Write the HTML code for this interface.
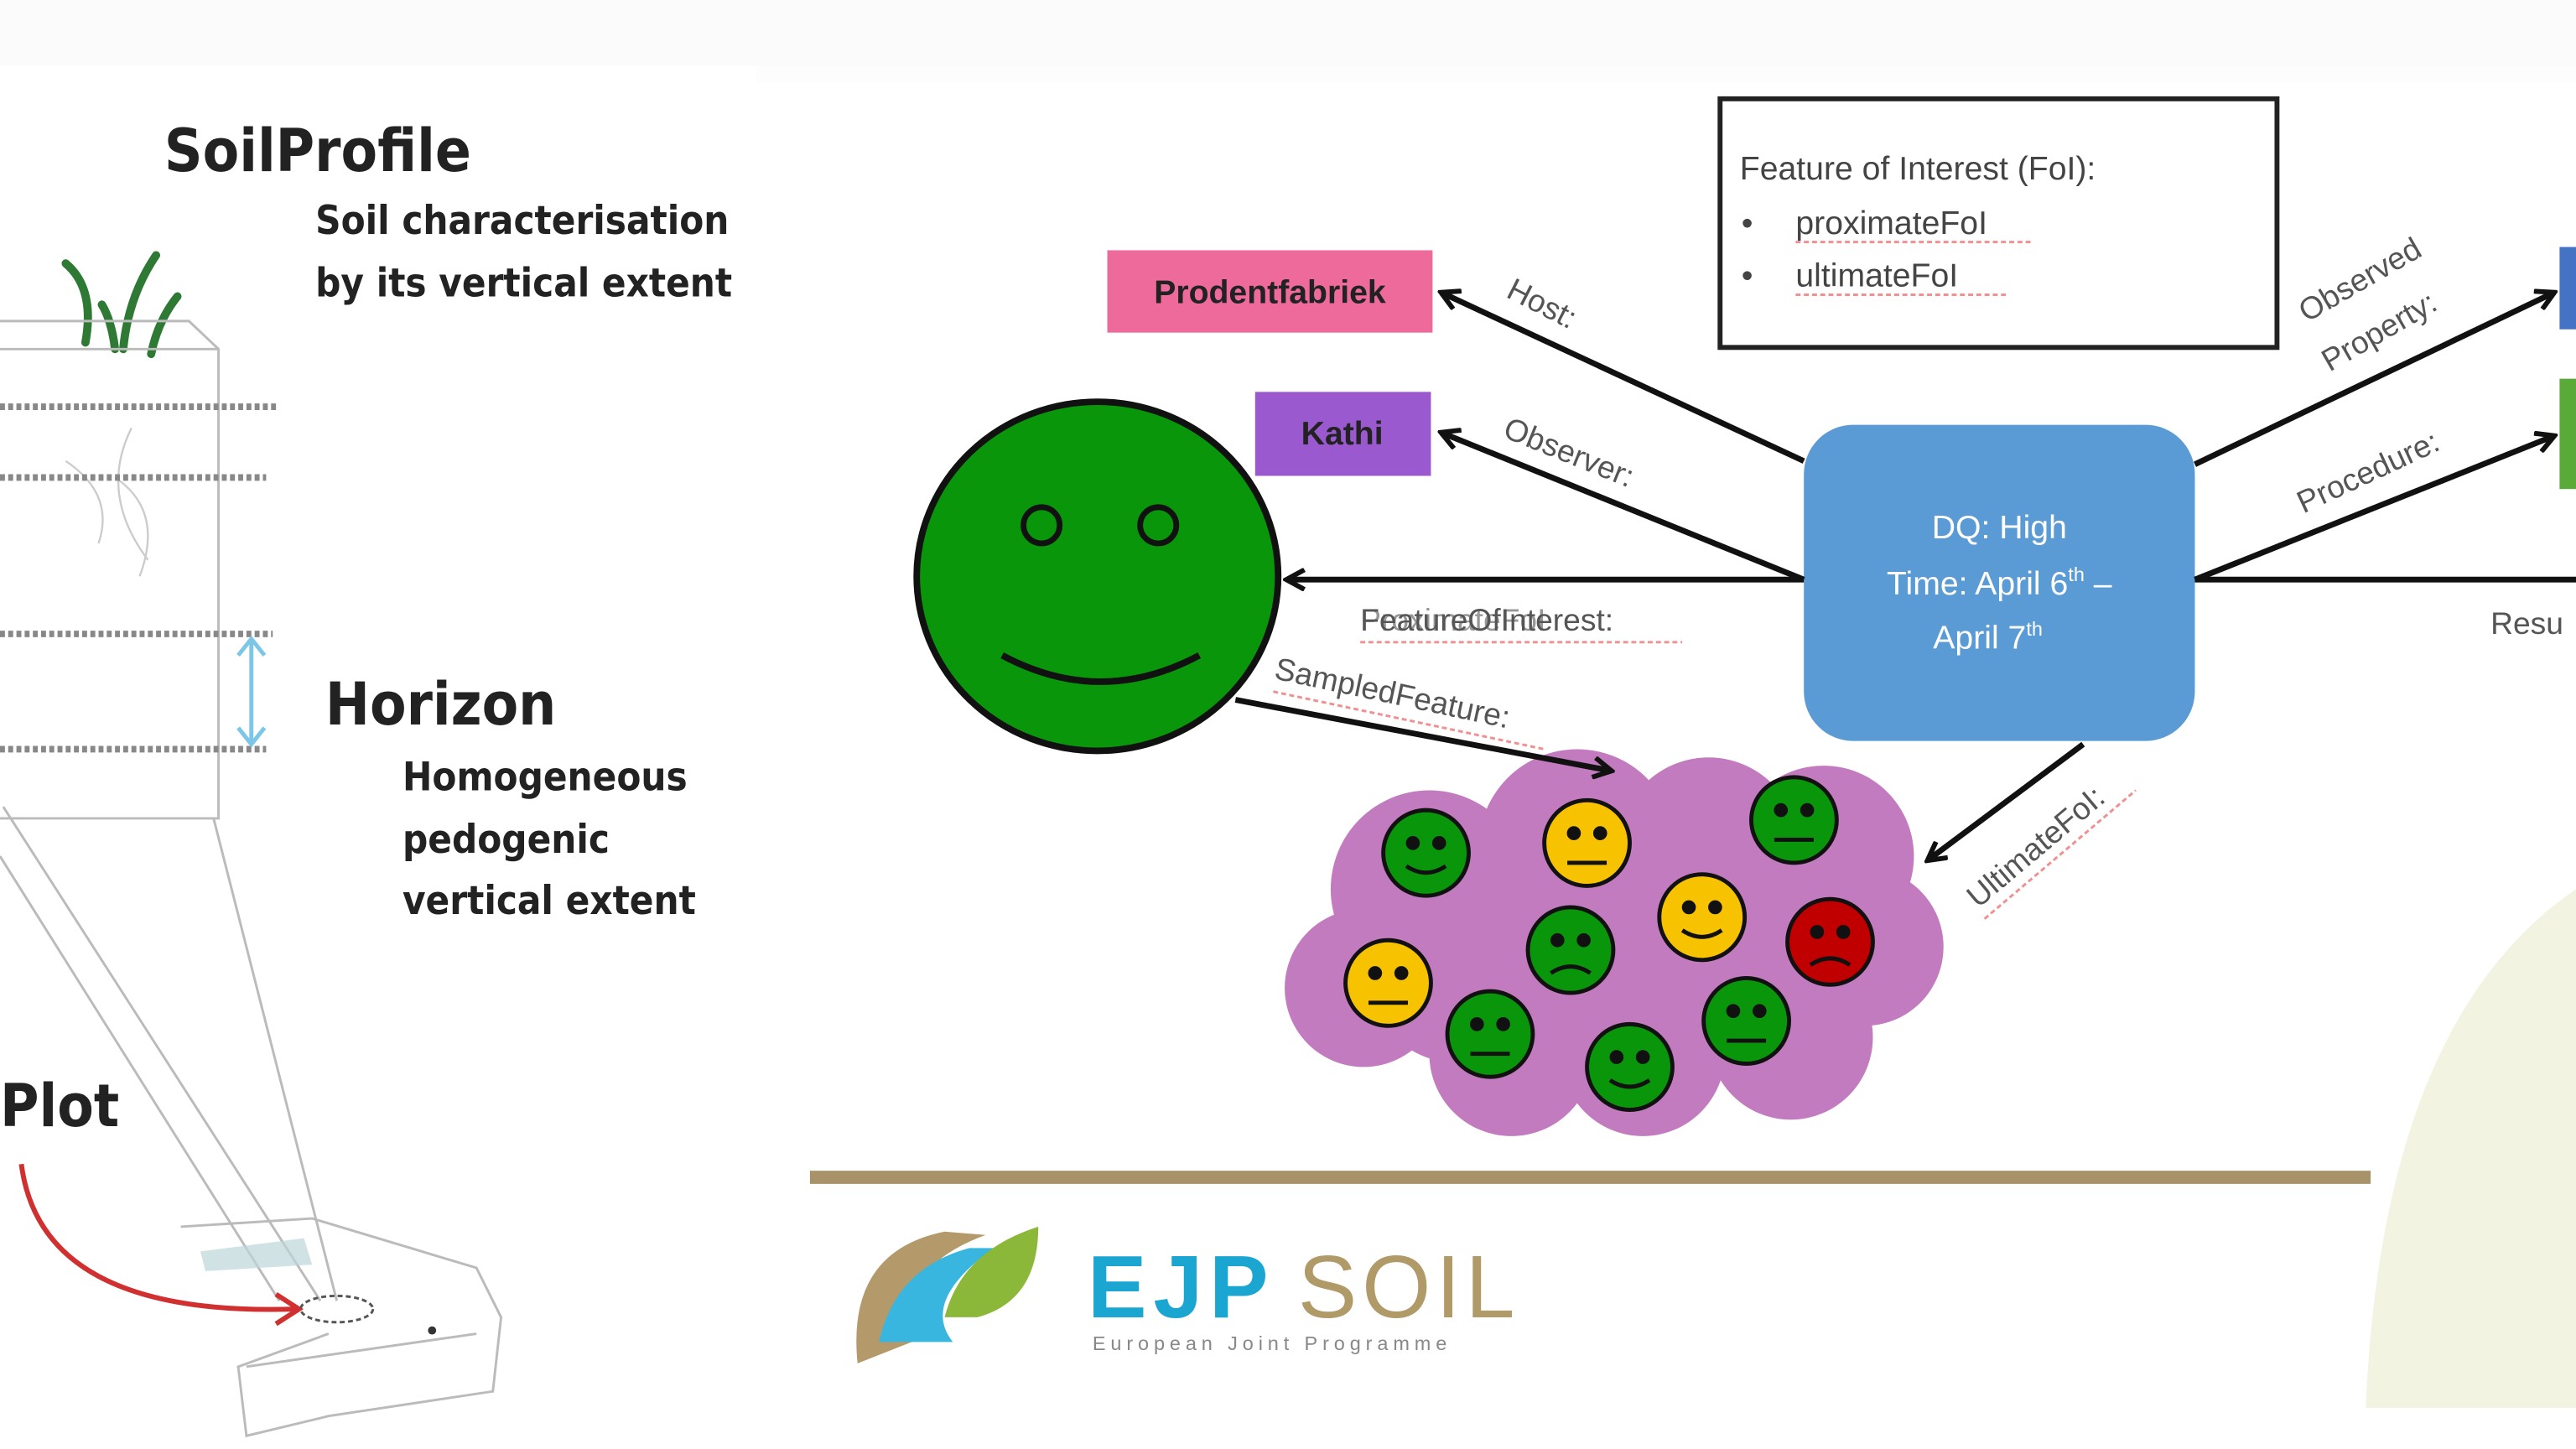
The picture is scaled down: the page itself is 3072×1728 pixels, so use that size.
<!DOCTYPE html>
<html><head><meta charset="utf-8"><style>
html,body{margin:0;padding:0;background:#fff;width:3072px;height:1728px;overflow:hidden}
svg{display:block}
.hand{font-family:"Comic Sans MS","DejaVu Sans Condensed","Liberation Sans",sans-serif;font-weight:bold;fill:#222}
.lbl{font-family:"Liberation Sans",sans-serif;fill:#555;font-size:19px}
</style></head><body>
<svg width="3072" height="1728" viewBox="0 0 1568 880" preserveAspectRatio="none" xmlns="http://www.w3.org/2000/svg">
<defs>
<marker id="ah" markerWidth="14" markerHeight="14" refX="11" refY="7" orient="auto" markerUnits="userSpaceOnUse">
<path d="M1,1 L12,7 L1,13" fill="none" stroke="#111" stroke-width="3"/>
</marker>
</defs>
<rect width="1568" height="880" fill="#fff"/>
<rect x="0" y="0" width="1568" height="40" fill="#fbfbfb"/>
<rect x="460" y="40" width="1108" height="10" fill="#fdfdfd"/>

<!-- LEFT PANEL -->
<text x="100" y="104" class="hand" font-size="36">SoilProfile</text>
<text x="192" y="142" class="hand" font-size="24" fill="#333">Soil characterisation</text>
<text x="192" y="180" class="hand" font-size="24" fill="#333">by its vertical extent</text>
<g stroke="#2e7a35" stroke-width="5" fill="none" stroke-linecap="round">
<path d="M40,160 Q58,175 52,208"/><path d="M62,185 Q68,195 70,212"/>
<path d="M95,155 Q78,180 75,212"/><path d="M108,180 Q96,195 92,215"/>
</g>
<g stroke="#bbb" stroke-width="1.5" fill="none">
<path d="M0,195 L115,195 L133,212 L133,497 L0,497"/>
<path d="M0,212 L133,212"/>
<path d="M2,490 L195,790 M130,497 L205,790 M0,520 L170,790"/>
<path d="M110,745 L190,740 L290,770 L305,800 L300,845 L200,860 L150,872 L145,830 L200,810"/>
<path d="M150,830 L290,810"/>
</g>
<path d="M40,280 Q70,300 60,330 M80,260 Q60,300 90,340 M70,290 Q100,310 85,350" stroke="#ccc" stroke-width="1.2" fill="none"/>
<g stroke="#888" stroke-width="4" stroke-dasharray="3,2">
<line x1="0" y1="247" x2="168" y2="247"/><line x1="0" y1="290" x2="162" y2="290"/>
<line x1="0" y1="385" x2="166" y2="385"/><line x1="0" y1="455" x2="162" y2="455"/>
</g>
<g stroke="#7cc6e8" stroke-width="2.5" fill="none">
<line x1="153" y1="390" x2="153" y2="450"/><path d="M145,398 L153,388 L161,398 M145,442 L153,452 L161,442"/>
</g>
<path d="M122,760 L185,752 L190,768 L125,772 Z" fill="#bcd6d8" opacity="0.7"/>
<text x="198" y="440" class="hand" font-size="36">Horizon</text>
<text x="245" y="480" class="hand" font-size="24" fill="#333">Homogeneous</text>
<text x="245" y="518" class="hand" font-size="24" fill="#333">pedogenic</text>
<text x="245" y="555" class="hand" font-size="24" fill="#333">vertical extent</text>
<text x="0" y="684" class="hand" font-size="36">Plot</text>
<path d="M13,707 Q25,800 180,795" stroke="#d03030" stroke-width="3" fill="none"/>
<path d="M168,786 L182,795 L168,804" stroke="#d03030" stroke-width="3" fill="none"/>
<ellipse cx="205" cy="795" rx="22" ry="8" stroke="#555" stroke-width="1.5" stroke-dasharray="3,2" fill="none"/>
<circle cx="263" cy="808" r="2.5" fill="#333"/>

<line x1="493" y1="715" x2="1443" y2="715" stroke="#a8926a" stroke-width="8"/>
<path d="M1440,855 Q1450,620 1568,540 L1568,855 Z" fill="#f3f3e2"/>
<path d="M522,828 Q515,760 575,748 L600,750 Q545,770 555,815 Z" fill="#b49a6a"/>
<path d="M535,815 Q545,770 590,758 L605,758 Q560,790 580,815 Z" fill="#39b6df"/>
<path d="M575,800 Q585,760 632,745 Q632,790 595,800 Z" fill="#8cb83a"/>
<text x="662" y="800" font-family="Liberation Sans,sans-serif" font-weight="bold" font-size="54" fill="#1aa6d1" letter-spacing="4">EJP</text>
<text x="790" y="800" font-family="Liberation Sans,sans-serif" font-size="54" fill="#b09a68" letter-spacing="3">SOIL</text>
<text x="665" y="820" font-family="Liberation Sans,sans-serif" font-size="12" fill="#888" letter-spacing="3">European Joint Programme</text>

<g fill="#c27bbe">
<circle cx="870" cy="540" r="60"/><circle cx="960" cy="515" r="60"/><circle cx="1040" cy="515" r="55"/><circle cx="1110" cy="520" r="55"/>
<circle cx="1135" cy="575" r="48"/><circle cx="1090" cy="630" r="50"/><circle cx="1000" cy="640" r="50"/><circle cx="920" cy="640" r="50"/>
<circle cx="830" cy="600" r="48"/><circle cx="980" cy="580" r="80"/><circle cx="885" cy="595" r="50"/><circle cx="1060" cy="585" r="60"/>
</g>
<g stroke="#111" stroke-width="2.5">
<g transform="translate(868,518)"><circle r="26" fill="#0a960a"/><circle cx="-8" cy="-6" r="3" fill="#111"/><circle cx="8" cy="-6" r="3" fill="#111"/><path d="M-12,8 Q0,16 12,8" fill="none"/></g>
<g transform="translate(966,512)"><circle r="26" fill="#f7c200"/><circle cx="-8" cy="-6" r="3" fill="#111"/><circle cx="8" cy="-6" r="3" fill="#111"/><path d="M-12,12 L12,12" fill="none"/></g>
<g transform="translate(1092,498)"><circle r="26" fill="#0a960a"/><circle cx="-8" cy="-6" r="3" fill="#111"/><circle cx="8" cy="-6" r="3" fill="#111"/><path d="M-12,12 L12,12" fill="none"/></g>
<g transform="translate(956,577)"><circle r="26" fill="#0a960a"/><circle cx="-8" cy="-6" r="3" fill="#111"/><circle cx="8" cy="-6" r="3" fill="#111"/><path d="M-12,14 Q0,6 12,14" fill="none"/></g>
<g transform="translate(1036,557)"><circle r="26" fill="#f7c200"/><circle cx="-8" cy="-6" r="3" fill="#111"/><circle cx="8" cy="-6" r="3" fill="#111"/><path d="M-12,8 Q0,16 12,8" fill="none"/></g>
<g transform="translate(1114,572)"><circle r="26" fill="#c00000"/><circle cx="-8" cy="-6" r="3" fill="#111"/><circle cx="8" cy="-6" r="3" fill="#111"/><path d="M-12,14 Q0,6 12,14" fill="none"/></g>
<g transform="translate(845,597)"><circle r="26" fill="#f7c200"/><circle cx="-8" cy="-6" r="3" fill="#111"/><circle cx="8" cy="-6" r="3" fill="#111"/><path d="M-12,12 L12,12" fill="none"/></g>
<g transform="translate(907,628)"><circle r="26" fill="#0a960a"/><circle cx="-8" cy="-6" r="3" fill="#111"/><circle cx="8" cy="-6" r="3" fill="#111"/><path d="M-12,12 L12,12" fill="none"/></g>
<g transform="translate(992,648)"><circle r="26" fill="#0a960a"/><circle cx="-8" cy="-6" r="3" fill="#111"/><circle cx="8" cy="-6" r="3" fill="#111"/><path d="M-12,8 Q0,16 12,8" fill="none"/></g>
<g transform="translate(1063,620)"><circle r="26" fill="#0a960a"/><circle cx="-8" cy="-6" r="3" fill="#111"/><circle cx="8" cy="-6" r="3" fill="#111"/><path d="M-12,12 L12,12" fill="none"/></g>
</g>

<ellipse cx="668" cy="350" rx="110" ry="106" fill="#0a960a" stroke="#111" stroke-width="4"/>
<circle cx="634" cy="319" r="11" fill="none" stroke="#111" stroke-width="3.5"/>
<circle cx="705" cy="319" r="11" fill="none" stroke="#111" stroke-width="3.5"/>
<path d="M610,398 Q670,430 730,398" fill="none" stroke="#111" stroke-width="4"/>

<rect x="674" y="152" width="198" height="50" fill="#ee6a9b"/>
<text x="773" y="184" text-anchor="middle" font-family="Liberation Sans,sans-serif" font-weight="bold" font-size="20" fill="#222">Prodentfabriek</text>
<rect x="764" y="238" width="107" height="51" fill="#9b59d0"/>
<text x="817" y="270" text-anchor="middle" font-family="Liberation Sans,sans-serif" font-weight="bold" font-size="20" fill="#222">Kathi</text>
<rect x="1558" y="150" width="12" height="50" fill="#4472c4"/>
<rect x="1558" y="230" width="12" height="67" fill="#5aaa3a"/>

<rect x="1047" y="60" width="339" height="151" fill="#fff" stroke="#222" stroke-width="3"/>
<g font-family="Liberation Sans,sans-serif" font-size="20" fill="#444">
<text x="1059" y="109">Feature of Interest (FoI):</text>
<text x="1060" y="142">•</text><text x="1093" y="142">proximateFoI</text>
<text x="1060" y="174">•</text><text x="1093" y="174">ultimateFoI</text>
</g>
<path d="M1093,147 h145 M1093,179 h128" stroke="#f09090" stroke-width="1.5" stroke-dasharray="3,2"/>

<rect x="1098" y="258" width="238" height="192" rx="30" fill="#5b9bd5"/>
<g font-family="Liberation Sans,sans-serif" font-size="20" fill="#fff" text-anchor="middle">
<text x="1217" y="327">DQ: High</text>
<text x="1217" y="361">Time: April 6<tspan font-size="12" dy="-8">th</tspan><tspan dy="8"> –</tspan></text>
<text x="1210" y="394">April 7<tspan font-size="12" dy="-8">th</tspan></text>
</g>

<g stroke="#111" stroke-width="3.5" fill="none" marker-end="url(#ah)">
<line x1="1098" y1="280" x2="878" y2="178"/>
<line x1="1098" y1="352" x2="878" y2="263"/>
<line x1="1098" y1="352" x2="784" y2="352"/>
<line x1="752" y1="425" x2="980" y2="468"/>
<line x1="1268" y1="452" x2="1174" y2="522"/>
<line x1="1336" y1="282" x2="1554" y2="178"/>
<line x1="1336" y1="352" x2="1554" y2="265"/>
</g>
<line x1="1336" y1="352" x2="1568" y2="352" stroke="#111" stroke-width="3.5"/>

<text class="lbl" transform="translate(916,180) rotate(27)">Host:</text>
<text class="lbl" transform="translate(914,265) rotate(22)">Observer:</text>
<text class="lbl" x="828" y="383" fill="#444">FeatureOfInterest:</text>
<text class="lbl" x="828" y="383" fill="#333" opacity="0.6">ProximateFoI</text>
<path d="M828,390 h196" stroke="#f09090" stroke-width="1.5" stroke-dasharray="3,2"/>
<text class="lbl" transform="translate(775,412) rotate(12)">SampledFeature:</text>
<path d="M775,420 L940,455" stroke="#f09090" stroke-width="1.5" stroke-dasharray="3,2"/>
<text class="lbl" transform="translate(1204,552) rotate(-40)">UltimateFoI:</text>
<path d="M1208,558 L1300,480" stroke="#f09090" stroke-width="1.5" stroke-dasharray="3,2"/>
<text class="lbl" transform="translate(1404,196) rotate(-30)">Observed</text>
<text class="lbl" transform="translate(1418,226) rotate(-30)">Property:</text>
<text class="lbl" transform="translate(1402,312) rotate(-25)">Procedure:</text>
<text class="lbl" x="1516" y="385">Resu</text>
</svg>
</body></html>
